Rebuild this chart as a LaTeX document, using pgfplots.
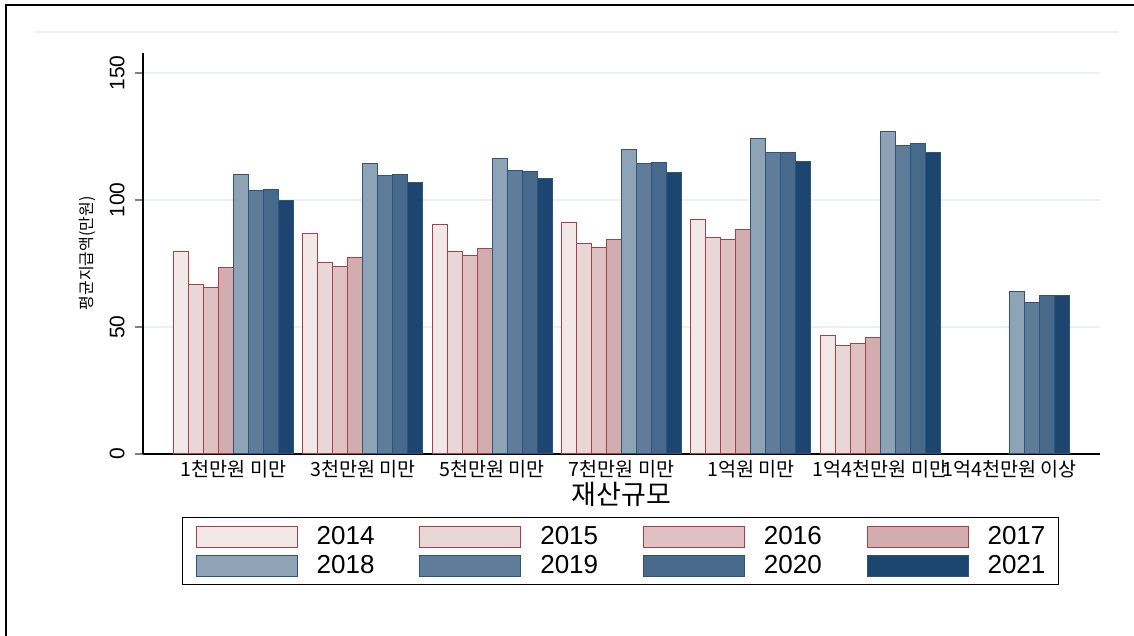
\documentclass[border=0pt]{standalone}
\usepackage{fontspec}
\setmainfont{Liberation Sans}
\newfontfamily\kr{Noto Sans CJK KR}
\usepackage{pgfplots}
\pgfplotsset{compat=1.18}

% fills and edges
\definecolor{c14}{HTML}{F3E8E8}
\definecolor{c15}{HTML}{E9D6D7}
\definecolor{c16}{HTML}{DFC1C3}
\definecolor{c17}{HTML}{D3ACAF}
\definecolor{c18}{HTML}{8FA3B7}
\definecolor{c19}{HTML}{5F7C9A}
\definecolor{c20}{HTML}{476A8C}
\definecolor{c21}{HTML}{1C466F}
\definecolor{redge}{HTML}{A6404A}
\definecolor{bedge}{HTML}{2E5479}
\definecolor{gridc}{HTML}{EAF0F3}

\begin{document}
\begin{tikzpicture}
\useasboundingbox (0,0) rectangle (567pt,318pt);
% outer frame (left and top visible) and faint rule
\draw[line width=1pt] (3pt,0) -- (3pt,315.5pt) -- (567pt,315.5pt);
\draw[gridc, line width=0.6pt] (17.5pt,302pt) -- (559pt,302pt);

\begin{axis}[
    at={(71.5pt,91pt)}, anchor=south west,
    scale only axis, width=478.5pt, height=200.5pt,
    xmin=-0.70, xmax=6.70, ymin=0, ymax=157.9,
    axis x line*=bottom, axis y line*=left,
    axis line style={line width=0.6pt},
    ytick={0,50,100,150},
    ytick align=outside, major tick length=4pt,
    ytick style={line width=0.6pt},
    ymajorgrids, grid style={gridc, line width=0.8pt},
    yticklabel style={rotate=90, anchor=south, inner sep=0pt, yshift=5pt,
        font=\fontsize{10.5}{12}\selectfont},
    /pgf/number format/assume math mode=true,
    xtick={0,...,6},
    xtick style={draw=none},
    xticklabels={1천만원 미만,3천만원 미만,5천만원 미만,7천만원 미만,1억원 미만,1억4천만원 미만,1억4천만원 이상},
    xticklabel style={font=\kr\fontsize{9.8}{10}\selectfont, inner sep=0pt, anchor=base, yshift=-7.5pt},
    xlabel={재산규모},
    xlabel style={font=\kr\fontsize{13.5}{15}\selectfont, at={(axis description cs:0.5,-0.1)}, anchor=center},
    ylabel={평균지급액(만원)},
    ylabel style={font=\kr\fontsize{8}{10}\selectfont, at={(axis description cs:-0.0585,0.5)}, anchor=center, rotate=0},
    ybar=0pt, bar width=0.116,
    area legend,
    legend image code/.code={\draw[#1] (0pt,-5.25pt) rectangle (50.5pt,5.25pt);},
    legend columns=4,
    legend style={at={(0.499,-0.157)}, anchor=north, draw=black, line width=0.6pt,
        font=\fontsize{13}{15}\selectfont,
        inner xsep=6.5pt, inner ysep=4pt, row sep=3.5pt,
        nodes={inner sep=0pt, anchor=west},
        /tikz/every even column/.append style={column sep=22.4pt},
        /tikz/every odd column/.append style={column sep=9.5pt}},
    legend cell align=left,
]
\addplot[fill=c14, draw=redge, line width=0.5pt, bar shift=-0.406] coordinates
  {(0,79.6) (1,86.8) (2,90.2) (3,91.3) (4,92.5) (5,46.7)};
\addplot[fill=c15, draw=redge, line width=0.5pt, bar shift=-0.290] coordinates
  {(0,66.7) (1,75.6) (2,79.9) (3,82.9) (4,85.3) (5,42.9)};
\addplot[fill=c16, draw=redge, line width=0.5pt, bar shift=-0.174] coordinates
  {(0,65.5) (1,73.9) (2,78.3) (3,81.5) (4,84.6) (5,43.4)};
\addplot[fill=c17, draw=redge, line width=0.5pt, bar shift=-0.058] coordinates
  {(0,73.5) (1,77.2) (2,80.8) (3,84.5) (4,88.4) (5,45.7)};
\addplot[fill=c18, draw=bedge, line width=0.5pt, bar shift=0.058] coordinates
  {(0,110.1) (1,114.2) (2,116.2) (3,119.8) (4,124.4) (5,127.0) (6,63.9)};
\addplot[fill=c19, draw=bedge, line width=0.5pt, bar shift=0.174] coordinates
  {(0,103.7) (1,109.8) (2,111.7) (3,114.4) (4,118.7) (5,121.4) (6,59.6)};
\addplot[fill=c20, draw=bedge, line width=0.5pt, bar shift=0.290] coordinates
  {(0,104.1) (1,110.1) (2,111.4) (3,114.6) (4,118.9) (5,122.4) (6,62.5)};
\addplot[fill=c21, draw=bedge, line width=0.5pt, bar shift=0.406] coordinates
  {(0,99.9) (1,107.1) (2,108.3) (3,110.7) (4,115.1) (5,118.7) (6,62.4)};
\legend{2014,2015,2016,2017,2018,2019,2020,2021}
\end{axis}
\end{tikzpicture}
\end{document}
